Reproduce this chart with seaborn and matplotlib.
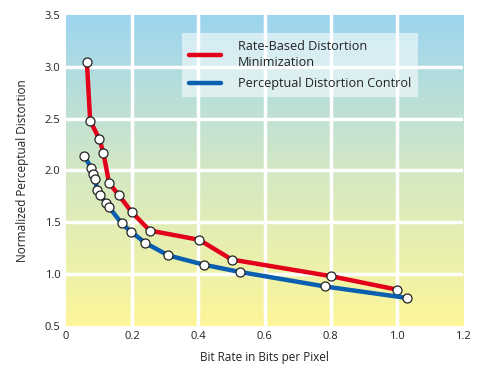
import numpy as np
import pandas as pd
import matplotlib
matplotlib.use("Agg")
import matplotlib.pyplot as plt
import seaborn as sns
from matplotlib.colors import LinearSegmentedColormap

# values
rate_x = [0.063, 0.073, 0.101, 0.113, 0.130, 0.160, 0.198, 0.253, 0.403, 0.501, 0.800, 1.000]
rate_y = [3.05, 2.48, 2.30, 2.17, 1.88, 1.76, 1.60, 1.42, 1.33, 1.14, 0.98, 0.85]
perc_x = [0.055, 0.077, 0.083, 0.087, 0.095, 0.103, 0.120, 0.129, 0.168, 0.196,
          0.240, 0.309, 0.417, 0.526, 0.783, 1.029]
perc_y = [2.14, 2.02, 1.97, 1.92, 1.81, 1.76, 1.69, 1.65, 1.49, 1.41,
          1.30, 1.18, 1.09, 1.02, 0.88, 0.77]
labels = ["Rate-Based Distortion\nMinimization", "Perceptual Distortion Control"]

df = pd.concat([
    pd.DataFrame({"x": rate_x, "y": rate_y, "series": labels[0]}),
    pd.DataFrame({"x": perc_x, "y": perc_y, "series": labels[1]}),
])

sns.set_theme(style="white")
plt.rcParams["font.family"] = ["Open Sans", "DejaVu Sans"]

fig = plt.figure(figsize=(4.89, 3.75), dpi=100)
ax = fig.add_axes([0.135, 0.131, 0.812, 0.829])

# gradient background, blue on top to yellow at bottom
cmap = LinearSegmentedColormap.from_list("bg", ["#fdf69a", "#d3e8c4", "#9dd5f0"])
grad = np.linspace(0, 1, 256).reshape(-1, 1)
ax.imshow(grad, cmap=cmap, origin="lower", aspect="auto",
          extent=[0, 1.2, 0.5, 3.5], zorder=0)

for v in np.arange(0.2, 1.2, 0.2):
    ax.axvline(v, color="white", lw=2.5, zorder=1)
for v in np.arange(1.0, 3.5, 0.5):
    ax.axhline(v, color="white", lw=2.5, zorder=1)

palette = {labels[0]: "#e2001a", labels[1]: "#0a5fb0"}
sns.lineplot(data=df, x="x", y="y", hue="series", palette=palette, sort=False,
             estimator=None, lw=3.2, marker="o", markersize=6.5,
             markerfacecolor="white", markeredgecolor="#222222",
             markeredgewidth=0.9, ax=ax, zorder=3)

ax.set_xlim(0, 1.2)
ax.set_ylim(0.5, 3.5)
ax.set_xticks([0, 0.2, 0.4, 0.6, 0.8, 1.0, 1.2])
ax.set_xticklabels(["0", "0.2", "0.4", "0.6", "0.8", "1.0", "1.2"])
ax.set_yticks([0.5, 1.0, 1.5, 2.0, 2.5, 3.0, 3.5])
ax.set_yticklabels(["0.5", "1.0", "1.5", "2.0", "2.5", "3.0", "3.5"])
ax.tick_params(length=0, labelsize=8, colors="#222222", pad=4)
for s in ax.spines.values():
    s.set_visible(False)
ax.set_xlabel("Bit Rate in Bits per Pixel", fontsize=8.5, color="#222222", labelpad=6)
ax.set_ylabel("Normalized Perceptual Distortion", fontsize=8.5, color="#222222", labelpad=11)

handles, hl = ax.get_legend_handles_labels()
for h in handles:
    h.set_marker("")
leg = ax.legend(handles, hl, loc="upper left", bbox_to_anchor=(0.292, 0.942),
                frameon=True, fontsize=9.1, handlelength=2.5, borderpad=0.55,
                labelspacing=0.6, handletextpad=1.4, borderaxespad=0,
                fancybox=False)
for t in leg.get_texts():
    t.set_linespacing(1.35)
    t.set_color("#222222")
leg.get_frame().set_facecolor("white")
leg.get_frame().set_alpha(0.55)
leg.get_frame().set_edgecolor("none")
leg.set_zorder(4)

fig.savefig("out.png", dpi=100)
